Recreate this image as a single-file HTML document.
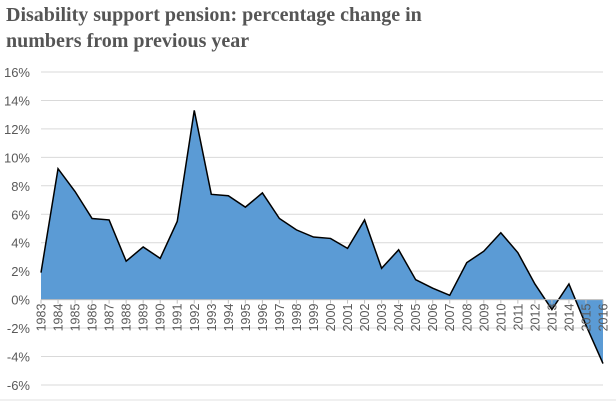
<!DOCTYPE html>
<html><head><meta charset="utf-8"><style>
body{margin:0;background:#fff;width:616px;height:404px;overflow:hidden}
.t{position:absolute;left:6px;top:2px;font-family:"Liberation Serif",serif;font-weight:bold;font-size:20px;line-height:26px;color:#555}
</style></head><body>
<div class="t">Disability support pension: percentage change in<br>numbers from previous year</div>
<svg id="c" width="616" height="404" style="position:absolute;left:0;top:0"></svg>
<script>
const years=[1983,1984,1985,1986,1987,1988,1989,1990,1991,1992,1993,1994,1995,1996,1997,1998,1999,2000,2001,2002,2003,2004,2005,2006,2007,2008,2009,2010,2011,2012,2013,2014,2015,2016];
const values=[1.9,9.2,7.6,5.7,5.6,2.7,3.7,2.9,5.5,13.3,7.4,7.3,6.5,7.5,5.7,4.9,4.4,4.3,3.6,5.6,2.2,3.5,1.4,0.8,0.3,2.6,3.4,4.7,3.3,1.1,-0.7,1.1,-1.8,-4.5];
const yTicks=[16,14,12,10,8,6,4,2,0,-2,-4,-6];
const svg=document.getElementById('c');const NS='http://www.w3.org/2000/svg';
const x=i=>41+i*(603-41)/(years.length-1);
const y=v=>299.6-v*(299.6-72)/16;
function mk(t,a,p){const e=document.createElementNS(NS,t);for(const k in a)e.setAttribute(k,a[k]);(p||svg).appendChild(e);return e;}
yTicks.forEach(v=>{
 const g=mk('line',{x1:41,x2:603,y1:y(v),y2:y(v),stroke:'#d9d9d9','stroke-width':1});
 
 
 const t=mk('text',{x:30,y:y(v)+5,'text-anchor':'end','font-family':'Liberation Sans, sans-serif','font-size':13,fill:'#595959'});
 t.textContent=v+'%';
 
 
});
let d='M'+x(0)+','+y(0);
values.forEach((v,i)=>{d+=' L'+x(i)+','+y(v);});
d+=' L'+x(values.length-1)+','+y(0)+' Z';
const area=mk('path',{d:d,fill:'#5b9bd5',stroke:'none'});


let ld='';values.forEach((v,i)=>{ld+=(i?' L':'M')+x(i)+','+y(v);});
const ln=mk('path',{d:ld,fill:'none',stroke:'#000','stroke-width':1.5});


const ax=mk('line',{x1:41,x2:603,y1:y(0),y2:y(0),stroke:'#bfbfbf','stroke-width':1});


years.forEach((yr,i)=>{
 const tk=mk('line',{x1:x(i),x2:x(i),y1:y(0),y2:y(0)+4,stroke:'#bfbfbf'});
 
 
 const t=mk('text',{x:0,y:0,transform:'translate('+(x(i)+4.5)+','+(y(0)+4)+') rotate(-90)','text-anchor':'end','font-family':'Liberation Sans, sans-serif','font-size':12.5,fill:'#595959'});
 t.textContent=yr;
 
 
});
const b=mk('line',{x1:0,x2:616,y1:400,y2:400,stroke:'#e0e0e0'});


</script>
</body></html>
